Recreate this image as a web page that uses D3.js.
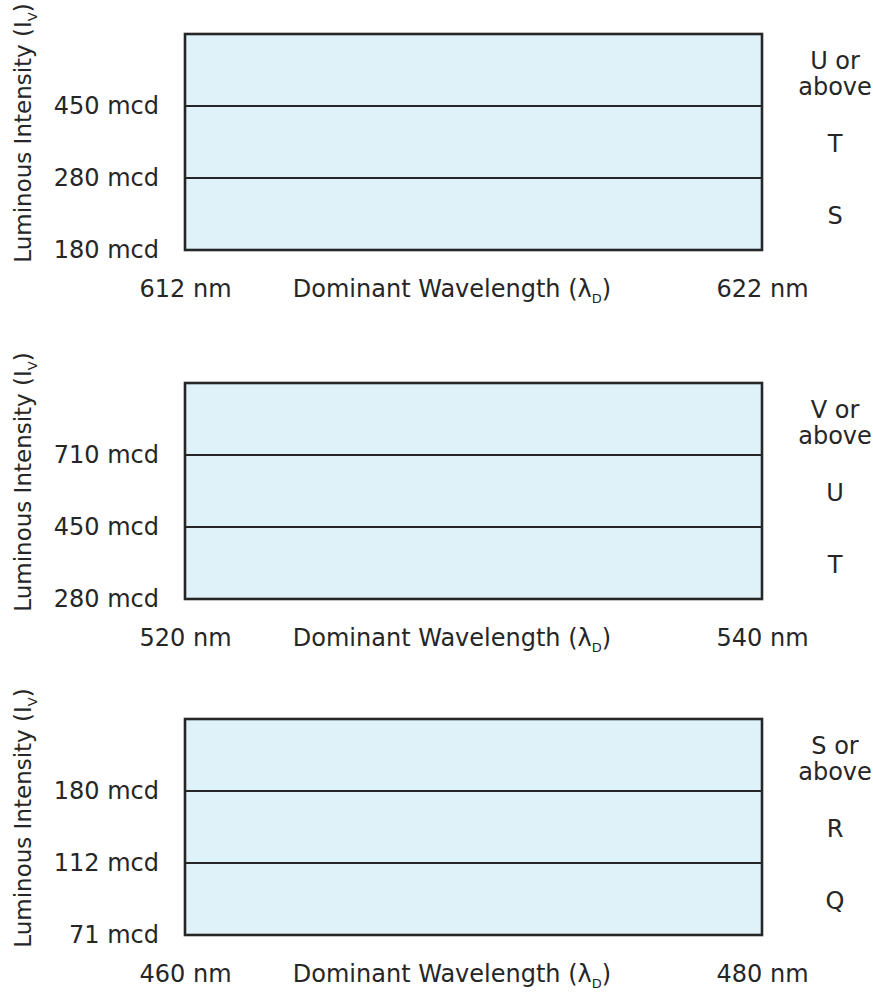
<!DOCTYPE html>
<html>
<head>
<meta charset="utf-8">
<script src="https://cdn.jsdelivr.net/npm/d3@7"></script>
<style>
  html, body { margin: 0; padding: 0; background: #fff; }
  svg { display: block; }
  text { font-family: "DejaVu Sans", Verdana, sans-serif; fill: #262626; }
</style>
</head>
<body>
<svg id="chart" width="873" height="992"></svg>
<script>
// ---- data ----
const wavelengthRed   = [612, 622];
const intensityRed    = ["180 mcd", "280 mcd", "450 mcd"];
const binsRed         = ["S", "T", "U or above"];

const wavelengthGreen = [520, 540];
const intensityGreen  = ["280 mcd", "450 mcd", "710 mcd"];
const binsGreen       = ["T", "U", "V or above"];

const wavelengthBlue  = [460, 480];
const intensityBlue   = ["71 mcd", "112 mcd", "180 mcd"];
const binsBlue        = ["Q", "R", "S or above"];

const xTitle = "Dominant Wavelength";
const yTitle = "Luminous Intensity";

// ---- layout ----
const svg = d3.select("#chart");
const left = 185, right = 762, boxH = 216;
const panelTops = [34, 383, 719];
const panels = [
  { wl: wavelengthRed,   iv: intensityRed,   bins: binsRed },
  { wl: wavelengthGreen, iv: intensityGreen, bins: binsGreen },
  { wl: wavelengthBlue,  iv: intensityBlue,  bins: binsBlue }
];
const FS = 24;

panels.forEach((p, k) => {
  const top = panelTops[k], bottom = top + boxH;
  const g = svg.append("g");

  const x = d3.scaleLinear().domain(p.wl).range([left, right]);
  const y = d3.scaleBand().domain(p.bins).range([bottom, top]).paddingInner(0).paddingOuter(0);

  // background bands
  g.selectAll("rect.band").data(p.bins).join("rect")
    .attr("class", "band")
    .attr("x", x(p.wl[0])).attr("width", x(p.wl[1]) - x(p.wl[0]))
    .attr("y", d => y(d)).attr("height", y.bandwidth())
    .attr("fill", "#dff2fa");

  // separators between bins
  g.selectAll("line.sep").data(p.bins.slice(0, -1)).join("line")
    .attr("class", "sep")
    .attr("x1", x(p.wl[0])).attr("x2", x(p.wl[1]))
    .attr("y1", d => y(d)).attr("y2", d => y(d))
    .attr("stroke", "#262626").attr("stroke-width", 2.2);

  // frame
  g.append("rect")
    .attr("x", x(p.wl[0])).attr("y", top)
    .attr("width", x(p.wl[1]) - x(p.wl[0])).attr("height", boxH)
    .attr("fill", "none").attr("stroke", "#262626").attr("stroke-width", 2.6);

  // y tick labels (bottom of each bin)
  g.selectAll("text.ytick").data(p.bins).join("text")
    .attr("class", "ytick")
    .attr("x", left - 26)
    .attr("y", d => y(d) + y.bandwidth() + 8)
    .attr("text-anchor", "end")
    .attr("font-size", FS)
    .text((d, i) => p.iv[i]);

  // x tick labels via axis
  const xAxis = d3.axisBottom(x).tickValues(p.wl).tickSize(0).tickPadding(0)
    .tickFormat(d => d + " nm");
  const ax = g.append("g").attr("transform", `translate(0,${bottom + 47})`).call(xAxis);
  ax.select(".domain").remove();
  ax.selectAll("text")
    .attr("dy", null).attr("y", 0)
    .attr("font-size", FS)
    .attr("font-family", '"DejaVu Sans", Verdana, sans-serif')
    .attr("fill", "#262626");

  // x title
  const xt = g.append("text")
    .attr("x", 452).attr("y", bottom + 47)
    .attr("text-anchor", "middle").attr("font-size", FS);
  xt.append("tspan").text(xTitle + " (\u03BB");
  xt.append("tspan").attr("font-size", 13).attr("dy", 6).text("D");
  xt.append("tspan").attr("dy", -6).text(")");

  // y title
  const yt = g.append("text")
    .attr("transform", `translate(31,${top + 99}) rotate(-90)`)
    .attr("text-anchor", "middle").attr("font-size", 23);
  yt.append("tspan").text(yTitle + " (I");
  yt.append("tspan").attr("font-size", 13).attr("dy", 6).text("V");
  yt.append("tspan").attr("dy", -6).text(")");

  // bin labels on right
  p.bins.forEach(b => {
    const lines = b.includes(" above") ? b.replace(" above", "\nabove").split("\n") : [b];
    const cy = y(b) + y.bandwidth() / 2;
    const lh = 26;
    const t = g.append("text").attr("text-anchor", "middle").attr("font-size", FS);
    lines.forEach((ln, i) => {
      t.append("tspan")
        .attr("x", 835)
        .attr("y", cy + 10 + (lines.length > 1 ? 2 : 0) + (i - (lines.length - 1) / 2) * lh)
        .text(ln);
    });
  });
});
</script>
</body>
</html>
